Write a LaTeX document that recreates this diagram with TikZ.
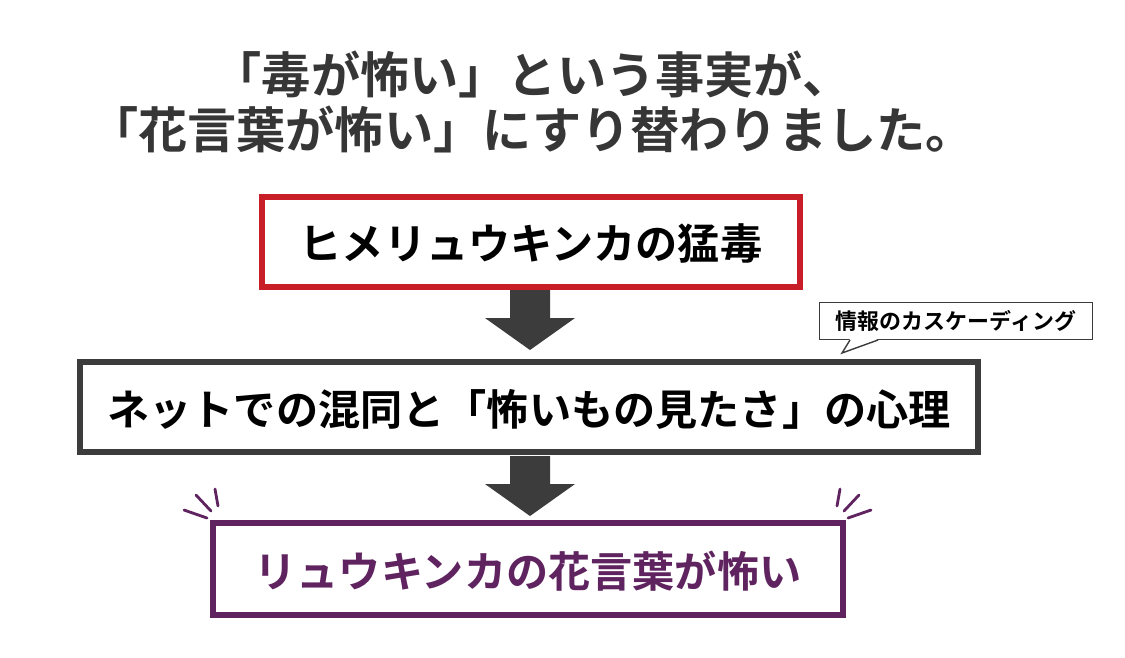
\documentclass[tikz,border=0pt]{standalone}
\usepackage{fontspec}
\newfontfamily\jp{Noto Sans CJK JP Bold}
\usetikzlibrary{positioning, shapes}
\definecolor{boxred}{RGB}{200,30,40}
\definecolor{boxgray}{RGB}{60,60,60}
\definecolor{boxpurple}{RGB}{95,35,95}
\tikzset{step box/.style={draw,line width=3.2pt,fill=white,font=\jp\fontsize{24}{28}\selectfont,inner sep=0pt,text depth=0pt},
         burst/.style={line width=1.6pt,boxpurple,line cap=round},}
\newcommand{\steparrow}[1]{\fill[boxgray] (#1) ++(-20,0) -- ++(40,0) -- ++(0,28) -- ++(25,0) -- ++(-45,32) -- ++(-45,-32) -- ++(25,0) -- cycle;}

\begin{document}
\begin{tikzpicture}[x=0.02cm,y=-0.02cm]
   \useasboundingbox (0,0) rectangle (1125,657);
   \node[font=\jp\fontsize{28}{31}\selectfont,text=boxgray!90!black,align=center] (title) at (532,102)
      {「毒が怖い」という事実が、\\「花言葉が怖い」にすり替わりました。};
   \node[step box,draw=boxred,minimum width=10.76cm,minimum height=1.8cm] (poison) at (531,242) {ヒメリュウキンカの猛毒};
   \node[step box,draw=boxgray,minimum width=17.96cm,minimum height=1.8cm] (net) at (529,407) {ネットでの混同と「怖いもの見たさ」の心理};
   \node[step box,draw=boxpurple,text=boxpurple,minimum width=12.6cm,minimum height=1.84cm] (flower) at (528,569) {リュウキンカの花言葉が怖い};
   \coordinate (a1) at (530,290);
   \coordinate (a2) at (530,456);
   \steparrow{a1}
   \steparrow{a2}
   \node[draw=boxgray,line width=0.8pt,fill=white,font=\jp\fontsize{12.5}{14}\selectfont,
      minimum width=5.46cm,minimum height=0.74cm,inner sep=0pt] (cascade) at (956,321) {情報のカスケーディング};
   \fill[white] (850,339) -- (842,353) -- (878,339) -- cycle;
   \draw[boxgray,line width=0.8pt] (850,340) -- (842,353) -- (878,340);
   % emphasis strokes
   \draw[burst] (184,510) -- (207,518);
   \draw[burst] (196,495) -- (211,511);
   \draw[burst] (215,489) -- (218,506);
   \draw[burst] (871,510) -- (848,518);
   \draw[burst] (859,495) -- (844,511);
   \draw[burst] (840,489) -- (837,506);
\end{tikzpicture}
\end{document}
